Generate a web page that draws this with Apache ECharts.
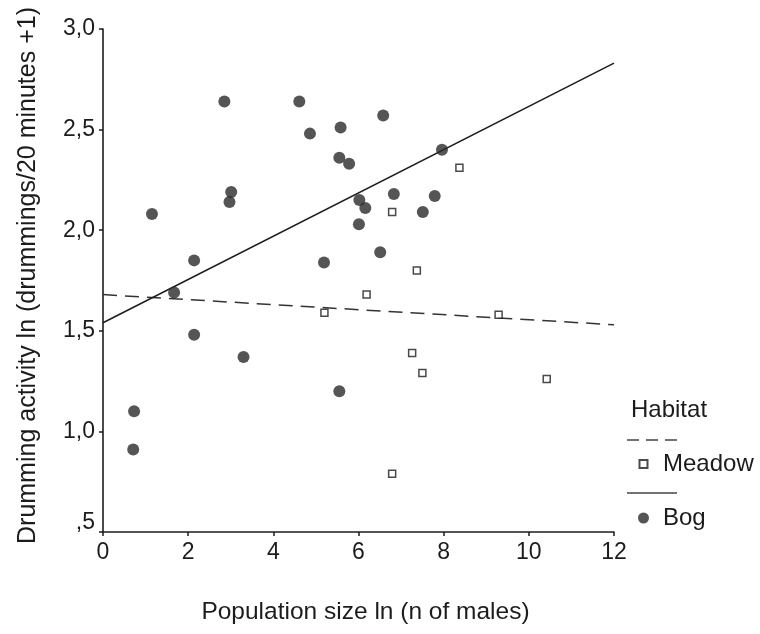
<!DOCTYPE html>
<html>
<head>
<meta charset="utf-8">
<script src="https://cdn.jsdelivr.net/npm/echarts@6/dist/echarts.min.js"></script>
<style>
  html, body { margin: 0; padding: 0; background: #ffffff; }
  #chart { width: 760px; height: 634px; }
</style>
</head>
<body>
<div id="chart"></div>
<script>
// Bog sites: [population size ln(n of males), drumming activity ln(drummings/20 min + 1)]
const bogPoints = [
  [2.85, 2.64], [4.61, 2.64], [4.86, 2.48], [5.58, 2.51], [5.55, 2.36],
  [5.78, 2.33], [3.01, 2.19], [2.97, 2.14], [1.15, 2.08], [2.14, 1.85],
  [5.19, 1.84], [1.67, 1.69], [6.58, 2.57], [7.96, 2.40], [6.02, 2.15],
  [6.16, 2.11], [6.83, 2.18], [7.79, 2.17], [7.51, 2.09], [6.01, 2.03],
  [6.51, 1.89], [5.55, 1.20], [2.14, 1.48], [3.30, 1.37], [0.73, 1.10],
  [0.71, 0.91]
];

// Meadow sites
const meadowPoints = [
  [8.37, 2.31], [6.79, 2.09], [7.37, 1.80], [6.19, 1.68], [5.20, 1.59],
  [9.29, 1.58], [7.26, 1.39], [7.50, 1.29], [10.42, 1.26], [6.79, 0.79]
];

// Fitted regression lines (end points across the x range)
const bogFit = [[0, 1.54], [12, 2.83]];
const meadowFit = [[0, 1.68], [12, 1.53]];

// Axis ticks
const xTickValues = [0, 2, 4, 6, 8, 10, 12];
const yTickValues = [0.5, 1.0, 1.5, 2.0, 2.5, 3.0];
const yTickLabels = [',5', '1,0', '1,5', '2,0', '2,5', '3,0'];

const xTitle = 'Population size ln (n of males)';
const yTitle = 'Drumming activity ln (drummings/20 minutes +1)';
const legendTitle = 'Habitat';

const FONT = "'Liberation Sans', Arial, Helvetica, sans-serif";
const INK = '#1c1c1c';

const chart = echarts.init(document.getElementById('chart'), null, { renderer: 'canvas' });

chart.setOption({
  backgroundColor: '#ffffff',
  animation: false,
  textStyle: { fontFamily: FONT, color: INK },
  grid: { left: 103, right: 146, top: 29, bottom: 102 },
  xAxis: {
    type: 'value',
    min: xTickValues[0],
    max: xTickValues[xTickValues.length - 1],
    interval: 2,
    name: xTitle,
    nameLocation: 'middle',
    nameGap: 68,
    nameTextStyle: { fontSize: 24.5, color: INK, fontFamily: FONT, padding: [0, 0, 0, 14] },
    axisLine: { show: true, onZero: false, lineStyle: { color: INK, width: 1.6 } },
    axisTick: { show: true, length: 4, lineStyle: { color: INK, width: 1.5 } },
    axisLabel: {
      fontSize: 23, color: INK, fontFamily: FONT, margin: 9,
      formatter: v => String(v)
    },
    splitLine: { show: false }
  },
  yAxis: {
    type: 'value',
    min: yTickValues[0],
    max: yTickValues[yTickValues.length - 1],
    interval: 0.5,
    name: yTitle,
    nameLocation: 'middle',
    nameRotate: 90,
    nameGap: 62,
    nameTextStyle: { fontSize: 25, color: INK, fontFamily: FONT, padding: [0, 0, 0, 10] },
    axisLine: { show: true, onZero: false, lineStyle: { color: INK, width: 1.6 } },
    axisTick: { show: true, length: 4, lineStyle: { color: INK, width: 1.5 } },
    axisLabel: {
      fontSize: 23, color: INK, fontFamily: FONT, margin: 8,
      formatter: v => {
        const i = yTickValues.findIndex(t => Math.abs(t - v) < 1e-9);
        const s = i >= 0 ? yTickLabels[i] : String(v);
        return i === 0 ? '{lo|' + s + '}' : s;
      },
      rich: { lo: { fontSize: 23, color: INK, fontFamily: FONT, padding: [0, 0, 18, 0] } }
    },
    splitLine: { show: false }
  },
  legend: {
    orient: 'vertical',
    left: 637,
    top: 452,
    itemWidth: 11,
    itemHeight: 11,
    itemGap: 30,
    padding: 0,
    selectedMode: false,
    textStyle: { fontSize: 24, color: INK, fontFamily: FONT, padding: [0, 0, 0, 9] },
    data: [
      { name: 'Meadow', icon: 'path://M0,0M11,11M1.5,1.5L9.5,1.5L9.5,9.5L1.5,9.5Z' },
      { name: 'Bog', icon: 'circle' }
    ]
  },
  graphic: [
    {
      type: 'text', left: 631, top: 398, silent: true,
      style: { text: legendTitle, font: '24px ' + FONT, fill: INK }
    },
    {
      type: 'line', silent: true,
      shape: { x1: 627, y1: 440, x2: 677, y2: 440 },
      style: { stroke: '#444444', lineWidth: 1.6, lineDash: [12, 7] }
    },
    {
      type: 'line', silent: true,
      shape: { x1: 627, y1: 493, x2: 677, y2: 493 },
      style: { stroke: '#444444', lineWidth: 1.6 }
    }
  ],
  series: [
    {
      name: 'Meadow fit',
      type: 'line',
      data: meadowFit,
      showSymbol: false,
      symbol: 'none',
      silent: true,
      z: 1,
      lineStyle: { color: '#333333', width: 1.5, type: [14, 8] }
    },
    {
      name: 'Bog fit',
      type: 'line',
      data: bogFit,
      showSymbol: false,
      symbol: 'none',
      silent: true,
      z: 1,
      lineStyle: { color: '#1c1c1c', width: 1.5, type: 'solid' }
    },
    {
      name: 'Meadow',
      type: 'scatter',
      data: meadowPoints,
      symbol: 'rect',
      symbolSize: 7,
      z: 3,
      itemStyle: { color: '#ffffff', borderColor: '#1c1c1c', borderWidth: 1.5 }
    },
    {
      name: 'Bog',
      type: 'scatter',
      data: bogPoints,
      symbol: 'circle',
      symbolSize: 12,
      z: 3,
      itemStyle: { color: '#2b2b2b', borderColor: '#2b2b2b', borderWidth: 0 }
    }
  ]
});
</script>
</body>
</html>
